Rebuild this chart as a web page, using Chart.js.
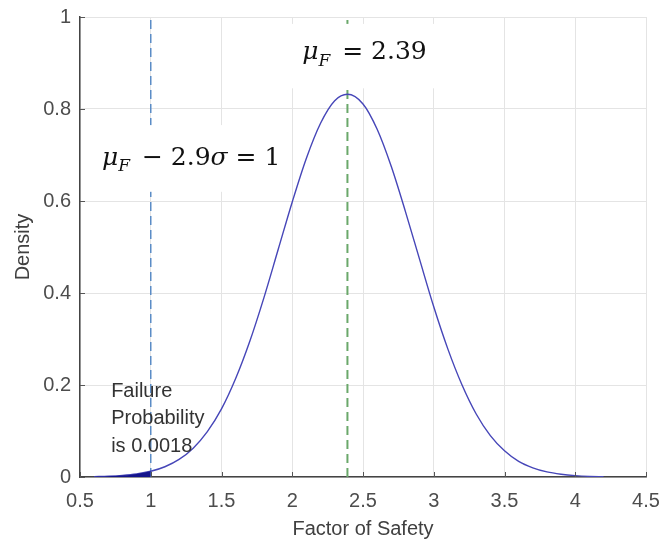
<!DOCTYPE html>
<html>
<head>
<meta charset="utf-8">
<script src="https://cdn.jsdelivr.net/npm/chart.js@4"></script>
<style>
  html, body { margin: 0; padding: 0; background: #fff; }
  #wrap { width: 663px; height: 544px; }
</style>
</head>
<body>
<div id="wrap"><canvas id="chart" width="663" height="544"></canvas></div>
<script>
// factor of safety (x) and density
var factorValues = [0.6, 0.7, 0.8, 0.9, 1.0, 1.1, 1.2, 1.3, 1.4, 1.5, 1.6, 1.7, 1.8, 1.9, 2.0,
                    2.1, 2.2, 2.3, 2.39, 2.5, 2.6, 2.7, 2.8, 2.9, 3.0, 3.1, 3.2, 3.3, 3.4, 3.5,
                    3.6, 3.7, 3.8, 3.9, 4.0, 4.1, 4.2];
var densityValues = [0.0008, 0.0017, 0.0034, 0.0066, 0.0124, 0.0223, 0.0382, 0.0627, 0.0986, 0.148, 0.214, 0.295, 0.390, 0.494, 0.598,
                     0.693, 0.769, 0.818, 0.832, 0.811, 0.756, 0.675, 0.577, 0.473, 0.370, 0.278, 0.200, 0.137, 0.090, 0.057,
                     0.034, 0.020, 0.011, 0.006, 0.003, 0.0014, 0.0007];
// shaded failure region (factor below 1)
var failureX = [0.6, 0.7, 0.8, 0.9, 1.0];
var failureDensity = [0.0008, 0.0017, 0.0034, 0.0066, 0.0124];
// reference lines
var limitFactor = 1;
var meanFactor = 2.39;
var xTicks = [0.5, 1, 1.5, 2, 2.5, 3, 3.5, 4, 4.5];
var yTicks = [0, 0.2, 0.4, 0.6, 0.8, 1];

function pairs(xs, ys) {
    return xs.map(function(v, i) { return { x: v, y: ys[i] }; });
}

var tickFont = { family: "'Liberation Sans', Arial, sans-serif", size: 20 };

// draw a small math expression piece by piece (italic symbols, subscripts)
function drawMath(ctx, parts, x, y, size) {
    parts.forEach(function(p) {
        var fs = p.sub ? Math.round(size * 0.68) : size;
        ctx.font = (p.italic ? 'italic ' : '') + fs + "px 'DejaVu Serif', serif";
        ctx.fillText(p.t, x, y + (p.sub ? size * 0.25 : 0));
        x += ctx.measureText(p.t).width + (p.gap || 0);
    });
}

var notes = {
    id: 'notes',
    afterDatasetsDraw: function(chart) {
        var ctx = chart.ctx, x = chart.scales.x, y = chart.scales.y;
        ctx.save();
        // white boxes behind the equations (pasted text boxes)
        ctx.fillStyle = '#ffffff';
        ctx.fillRect(x.getPixelForValue(1.97), y.getPixelForValue(0.985),
                     x.getPixelForValue(3.05) - x.getPixelForValue(1.97),
                     y.getPixelForValue(0.845) - y.getPixelForValue(0.985));
        ctx.fillRect(x.getPixelForValue(0.6), y.getPixelForValue(0.765),
                     x.getPixelForValue(1.99) - x.getPixelForValue(0.6),
                     y.getPixelForValue(0.62) - y.getPixelForValue(0.765));

        ctx.fillStyle = '#111111';
        ctx.textBaseline = 'alphabetic';
        ctx.textAlign = 'left';
        drawMath(ctx, [
            { t: 'μ', italic: true },
            { t: 'F', italic: true, sub: true, gap: 4 },
            { t: ' = 2.39' }
        ], x.getPixelForValue(2.07), y.getPixelForValue(0.908), 25);
        drawMath(ctx, [
            { t: 'μ', italic: true },
            { t: 'F', italic: true, sub: true, gap: 4 },
            { t: ' − 2.9' },
            { t: 'σ', italic: true },
            { t: ' = 1' }
        ], x.getPixelForValue(0.655), y.getPixelForValue(0.678), 25);

        ctx.fillStyle = '#333333';
        ctx.font = "20px 'Liberation Sans', Arial, sans-serif";
        var lx = x.getPixelForValue(0.72);
        ctx.fillText('Failure', lx, y.getPixelForValue(0.174));
        ctx.fillText('Probability', lx, y.getPixelForValue(0.115));
        ctx.fillText('is 0.0018', lx, y.getPixelForValue(0.054));

        // inward tick marks like the original axes
        ctx.strokeStyle = '#555555';
        ctx.lineWidth = 1;
        ctx.beginPath();
        xTicks.forEach(function(t) {
            var px = Math.round(x.getPixelForValue(t)) + 0.5;
            ctx.moveTo(px, y.bottom); ctx.lineTo(px, y.bottom - 5);
        });
        yTicks.forEach(function(t) {
            var py = Math.round(y.getPixelForValue(t)) + 0.5;
            ctx.moveTo(x.left, py); ctx.lineTo(x.left + 5, py);
        });
        ctx.stroke();
        ctx.restore();
    }
};

function plainLabel(value) {
    return String(Math.round(value * 10) / 10);
}

var ctx = document.getElementById('chart').getContext('2d');
new Chart(ctx, {
    type: 'line',
    data: {
        datasets: [
            {
                label: 'Failure region',
                data: pairs(failureX, failureDensity),
                borderWidth: 0,
                borderColor: '#14148c',
                backgroundColor: '#14148c',
                fill: 'origin',
                pointRadius: 0,
                tension: 0.4
            },
            {
                label: 'Density',
                data: pairs(factorValues, densityValues),
                borderColor: '#4646b8',
                borderWidth: 1.4,
                fill: false,
                pointRadius: 0,
                cubicInterpolationMode: 'monotone'
            },
            {
                label: 'Limit',
                data: [{ x: limitFactor, y: 0 }, { x: limitFactor, y: 1 }],
                borderColor: '#5b8cc6',
                borderWidth: 1.5,
                borderDash: [9, 5],
                pointRadius: 0
            },
            {
                label: 'Mean',
                data: [{ x: meanFactor, y: 0 }, { x: meanFactor, y: 1 }],
                borderColor: '#6aa86a',
                borderWidth: 2,
                borderDash: [9, 5],
                pointRadius: 0
            }
        ]
    },
    options: {
        responsive: false,
        animation: false,
        layout: { padding: { left: 0, right: 17, top: 17, bottom: 0 } },
        plugins: { legend: { display: false }, tooltip: { enabled: false } },
        scales: {
            x: {
                type: 'linear',
                min: 0.5,
                max: 4.5,
                afterBuildTicks: function(scale) {
                    scale.ticks = xTicks.map(function(v) { return { value: v }; });
                },
                afterFit: function(scale) {
                    scale.height = 67;
                    scale.paddingLeft = 0;
                    scale.paddingRight = 0;
                },
                grid: { color: '#e4e4e4', drawTicks: false },
                border: { color: '#444444', width: 1.5 },
                ticks: { font: tickFont, color: '#4d4d4d', padding: 12, maxRotation: 0, callback: plainLabel },
                title: {
                    display: true,
                    text: 'Factor of Safety',
                    font: tickFont,
                    color: '#404040',
                    padding: { top: 0, bottom: 3 }
                }
            },
            y: {
                min: 0,
                max: 1,
                afterBuildTicks: function(scale) {
                    scale.ticks = yTicks.map(function(v) { return { value: v }; });
                },
                afterFit: function(scale) {
                    scale.width = 80;
                    scale.paddingTop = 0;
                    scale.paddingBottom = 0;
                },
                grid: { color: '#e4e4e4', drawTicks: false },
                border: { color: '#444444', width: 1.5 },
                ticks: { font: tickFont, color: '#4d4d4d', padding: 9, callback: plainLabel },
                title: {
                    display: true,
                    text: 'Density',
                    font: tickFont,
                    color: '#404040',
                    padding: { top: 11, bottom: 0 }
                }
            }
        }
    },
    plugins: [notes]
});
</script>
</body>
</html>
